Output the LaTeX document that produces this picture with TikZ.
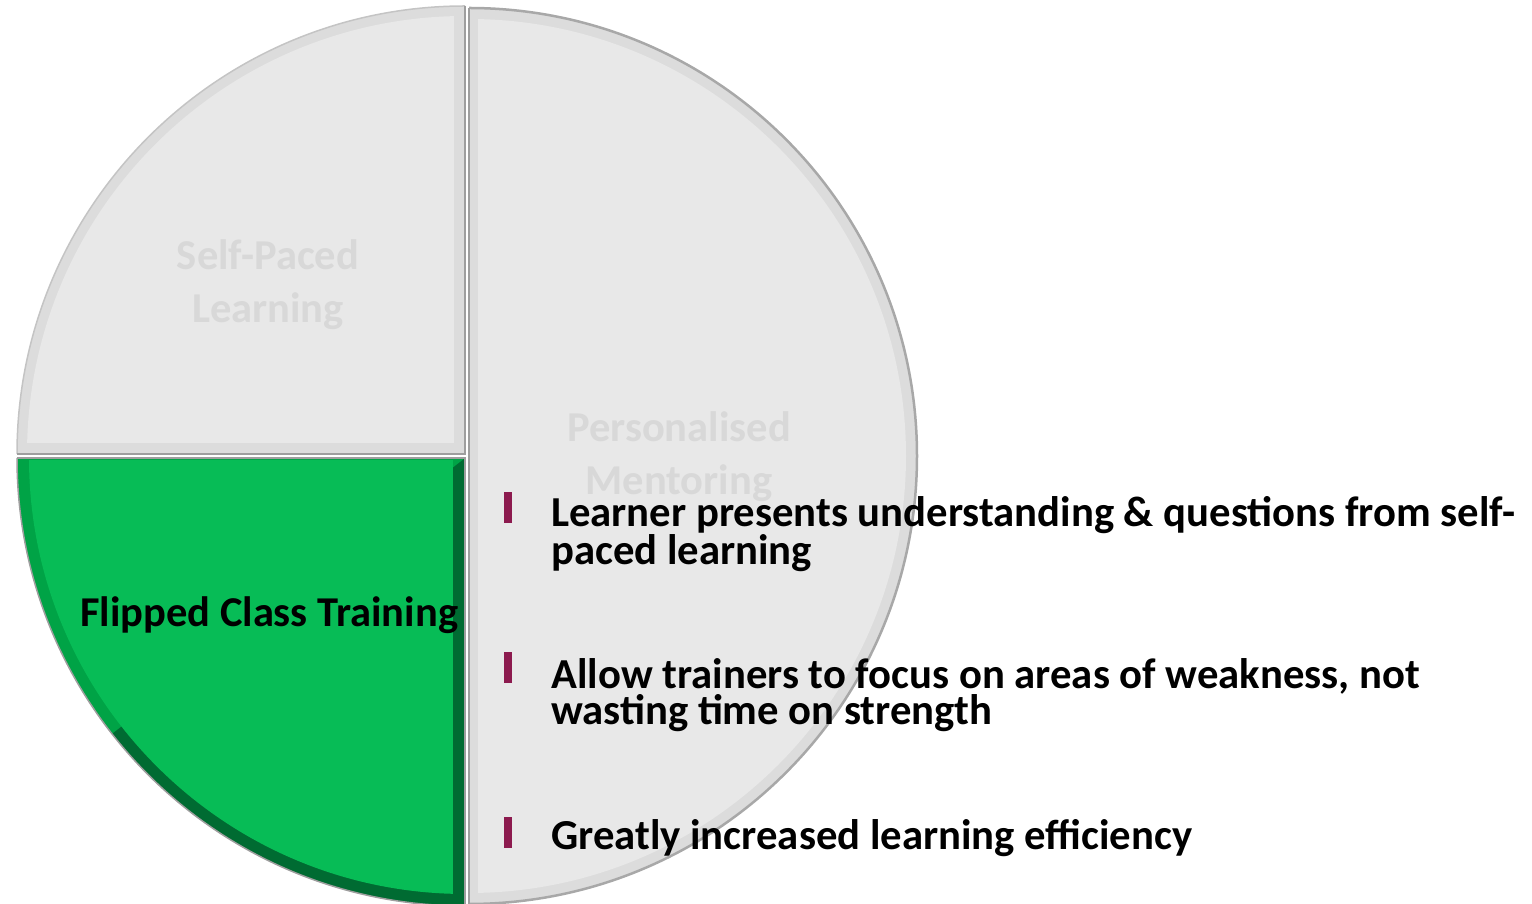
\documentclass[tikz,border=0pt]{standalone}
\usepackage{fontspec}
\setmainfont{Carlito}
\definecolor{gfill}{HTML}{E8E8E8}
\definecolor{gbevel}{HTML}{DCDCDC}
\definecolor{gborder}{HTML}{9E9E9E}
\definecolor{garc}{HTML}{C4C4C4}
\definecolor{gtext}{HTML}{D8D8D8}
\definecolor{grfill}{HTML}{07BC56}
\definecolor{grdark}{HTML}{006B32}
\definecolor{grmid}{HTML}{00A346}
\definecolor{bulletc}{HTML}{8C1A4E}
\tikzset{
  sliceborder/.style={draw=gborder, line width=2.5pt},
  arcborder/.style={draw=garc, line width=1.5pt},
  pielabel/.style={font=\bfseries\fontsize{42.5}{53}\selectfont, text=gtext, align=center, inner sep=0pt},
  greenlabel/.style={font=\bfseries\fontsize{42.5}{48}\selectfont, text=black, inner sep=0pt},
  bullettext/.style={font=\bfseries\fontsize{42.7}{35}\selectfont, text=black, align=left, anchor=base west, inner sep=0pt},
  bulletbar/.style={fill=bulletc, minimum width=8pt, minimum height=31pt, inner sep=0pt, anchor=north west},
}
\begin{document}
\begin{tikzpicture}[x=1pt,y=1pt]
\useasboundingbox (0,0) rectangle (1532,904);

% ---- top-left slice (Self-Paced Learning)
\fill[gbevel] (465,450) -- (465,898) arc[start angle=90,end angle=180,radius=448] -- cycle;
\begin{scope}
  \clip (465,450) circle[radius=438];
  \fill[gfill] (0,461) rectangle (454,904);
\end{scope}
\draw[arcborder] (465,898) arc[start angle=90,end angle=180,radius=448];
\draw[sliceborder] (17,450) -- (465,450) -- (465,898);

% ---- bottom-left slice (Flipped Class Training)
\fill[grdark] (465,446) -- (17,446) arc[start angle=180,end angle=270,radius=448] -- cycle;
\fill[grmid] (465,446) -- (17,446) arc[start angle=180,end angle=218,radius=448] -- cycle;
\begin{scope}
  \clip (465,446) circle[radius=436];
  \fill[grfill] (0,0) rectangle (453,444);
\end{scope}
\draw[sliceborder] (17,446) -- (465,446) -- (465,-2);
\draw[draw=gborder, line width=1.5pt] (17,446) arc[start angle=180,end angle=270,radius=448];

% ---- right half (Personalised Mentoring)
\fill[gbevel] (469,448) -- (469,0) arc[start angle=-90,end angle=90,radius=448] -- cycle;
\begin{scope}
  \clip (469,448) circle[radius=437];
  \fill[gfill] (472,0) rectangle (1000,904);
  \fill[gfill!95!black] (471,0) rectangle (478,904);
\end{scope}
\draw[draw=gborder!90!white, line width=2.5pt] (469,0) arc[start angle=-90,end angle=90,radius=448];
\draw[sliceborder] (469,0) -- (469,896);

% ---- labels
\node[pielabel] (selfpaced) at (268,619) {Self-Paced\\Learning};
\node[pielabel] (mentoring) at (679,447) {Personalised\\Mentoring};
\node[greenlabel, anchor=base west] (flipped) at (80,277) {Flipped Class Training};

% ---- bullets
\node[bulletbar] (b1) at (504,412) {};
\node[bullettext] (t1) at (551,339) {Learner presents understanding \& questions from self-\\paced learning};
\node[bulletbar] (b2) at (504,252) {};
\node[bullettext] (t2) at (551,179) {Allow trainers to focus on areas of weakness, not\\wasting time on strength};
\node[bulletbar] (b3) at (504,87) {};
\node[bullettext] (t3) at (551,54) {Greatly increased learning efficiency};
\end{tikzpicture}
\end{document}
